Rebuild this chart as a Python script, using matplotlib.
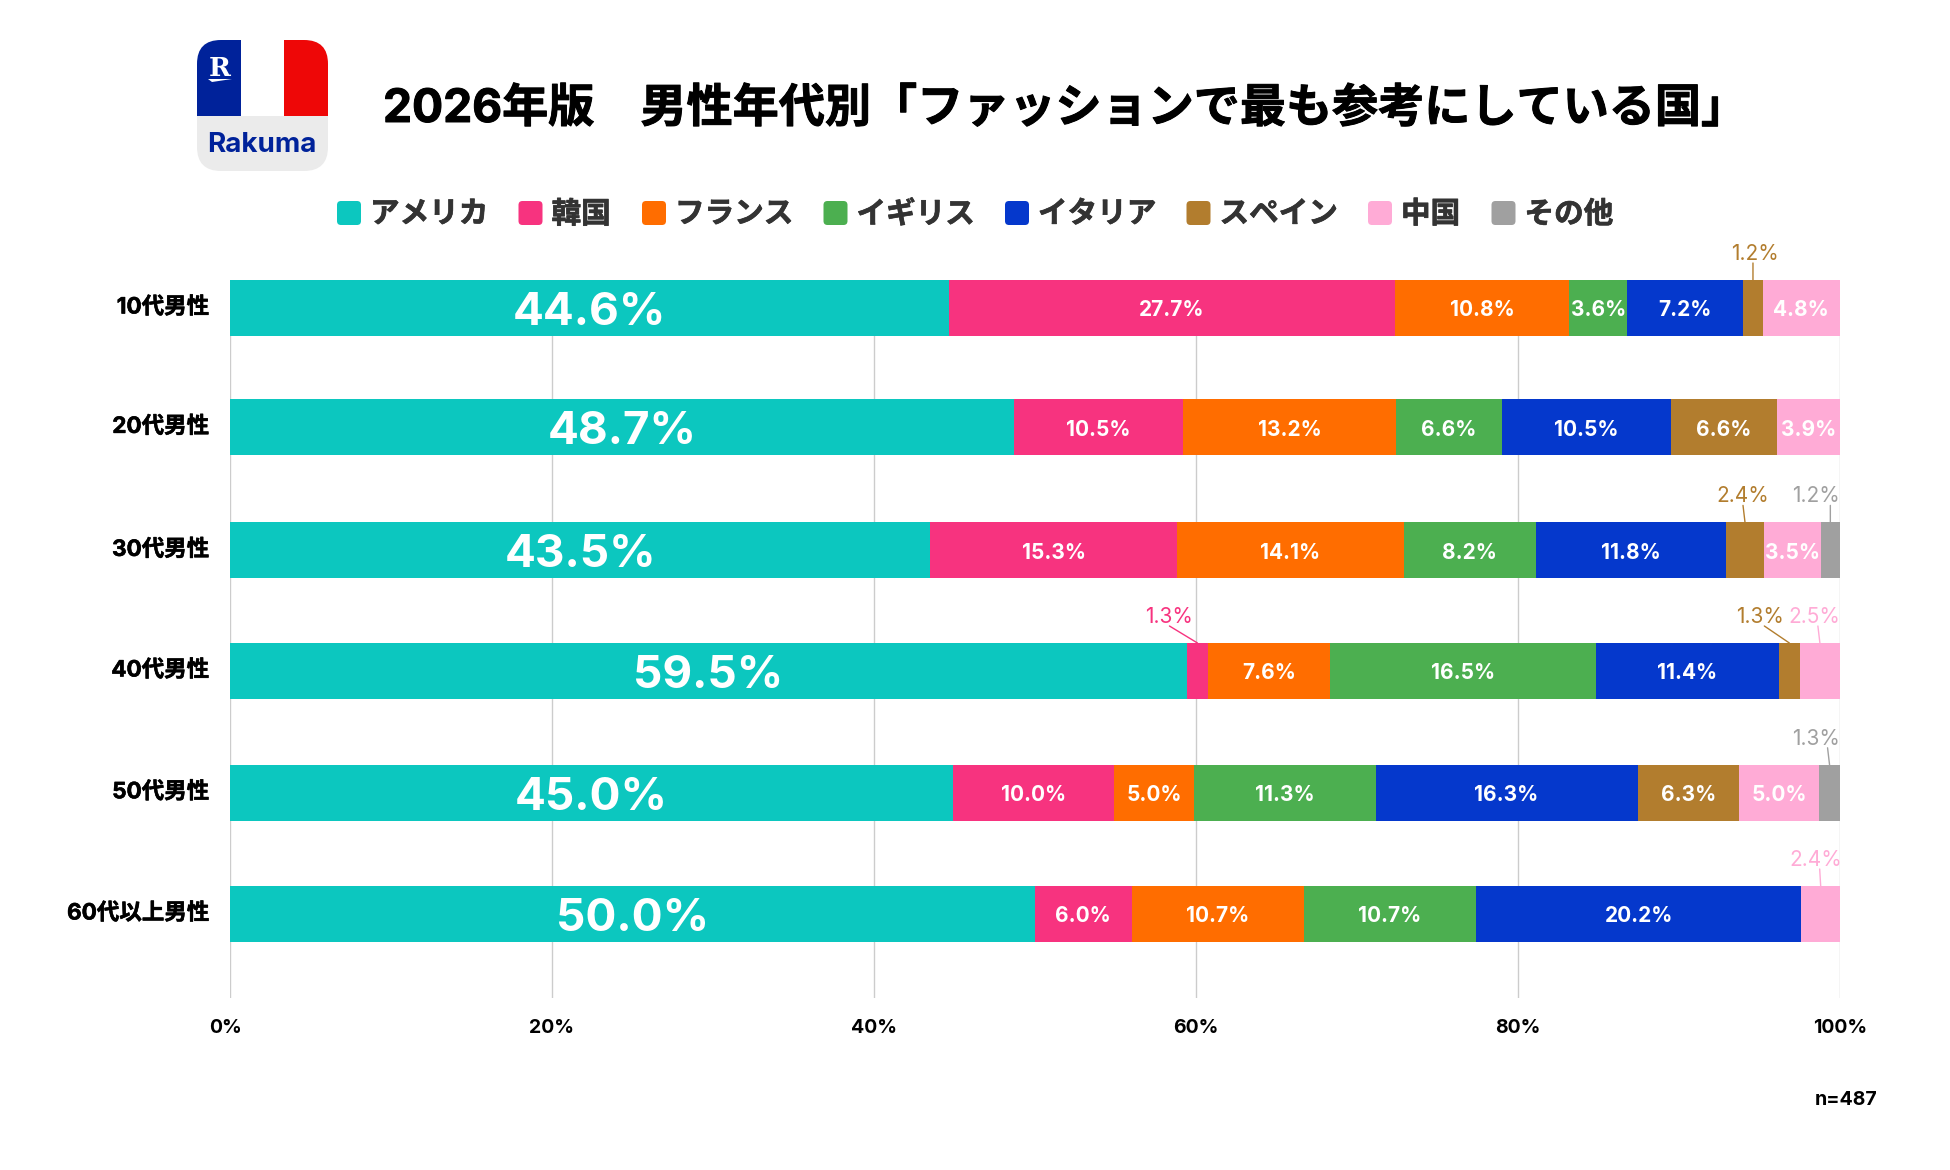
"""
Rakuma 2026 - country men refer to for fashion, by age group
"""

import matplotlib
matplotlib.use('Agg')
import matplotlib.pyplot as plt
import matplotlib.patheffects as pe
from matplotlib.patches import FancyBboxPatch, Rectangle, Polygon
from matplotlib.transforms import ScaledTranslation

plt.rcParams['font.family'] = ['Inter', 'Noto Sans CJK JP', 'DejaVu Sans']

TITLE = '2026年版　男性年代別「ファッションで最も参考にしている国」'
ages = ['10代男性', '20代男性', '30代男性', '40代男性', '50代男性', '60代以上男性']
countries = ['アメリカ', '韓国', 'フランス', 'イギリス', 'イタリア', 'スペイン', '中国', 'その他']
colors = ['#0CC7BF', '#F7337F', '#FF6D00', '#4CAF50', '#0538CC', '#B27D2E', '#FFABD6', '#A0A0A0']

america = [44.6, 48.7, 43.5, 59.5, 45.0, 50.0]
korea = [27.7, 10.5, 15.3, 1.3, 10.0, 6.0]
france = [10.8, 13.2, 14.1, 7.6, 5.0, 10.7]
britain = [3.6, 6.6, 8.2, 16.5, 11.3, 10.7]
italy = [7.2, 10.5, 11.8, 11.4, 16.3, 20.2]
spain = [1.2, 6.6, 2.4, 1.3, 6.3, 0]
china = [4.8, 3.9, 3.5, 2.5, 5.0, 2.4]
other = [0, 0, 1.2, 0, 1.3, 0]
series = [america, korea, france, britain, italy, spain, china, other]

# the rows in the picture are not spaced quite evenly
row_pos = [0, 0.985, 2, 2.995, 4, 5]

# small segments labelled above the bar: row, series, label dx, leader top dx (pixels)
callouts = [
    (0, 5, 2, 0),
    (2, 5, -2, -2),
    (2, 7, -14, 0),
    (3, 1, -28, -28),
    (3, 5, -29, -25),
    (3, 6, -6, -2),
    (4, 7, -14, -2),
    (5, 6, -5, -1),
]

W, H = 1950, 1170
BAR_TOP, ROW_STEP, BAR_H = 280, 121.2, 56
AX_LEFT, AX_RIGHT, AX_BOTTOM = 230, 1840, 998
heavy = [pe.withStroke(linewidth=0.7, foreground='black')]
heavy_label = [pe.withStroke(linewidth=0.4, foreground='black')]
heavy_grey = [pe.withStroke(linewidth=0.5, foreground='#333333')]

fig = plt.figure(figsize=(W / 100, H / 100), dpi=100, facecolor='white')
ax = fig.add_axes([AX_LEFT / W, 1 - AX_BOTTOM / H, (AX_RIGHT - AX_LEFT) / W, (AX_BOTTOM - BAR_TOP) / H])

height = BAR_H / ROW_STEP
centers = []
lefts = [0.0] * len(ages)
for i, vals in enumerate(series):
    row_centers = []
    for r, v in enumerate(vals):
        total = sum(s[r] for s in series)
        w = 100 * v / total
        row_centers.append(lefts[r] + w / 2)
        if v == 0:
            continue
        ax.barh(row_pos[r], w, left=lefts[r], height=height, color=colors[i], linewidth=0, zorder=3)
        outside = any(c[0] == r and c[1] == i for c in callouts)
        if not outside:
            big = i == 0
            ax.text(lefts[r] + w / 2, row_pos[r] + (0.04 if big else 0.02), f'{v:.1f}%', color='white',
                    ha='center', va='center', fontsize=33 if big else 15, fontweight='bold', zorder=4)
        lefts[r] += w
    centers.append(row_centers)

for r, i, dx, leader_dx in callouts:
    x = centers[i][r]
    bar_top = row_pos[r] - height / 2
    ax.annotate('', xy=(x, bar_top), xytext=(leader_dx, 17), xycoords='data', textcoords='offset pixels',
                arrowprops=dict(arrowstyle='-', color=colors[i], lw=1, shrinkA=0, shrinkB=0), zorder=4)
    ax.annotate(f'{series[i][r]:.1f}%', xy=(x, bar_top), xytext=(dx, 26), xycoords='data',
                textcoords='offset pixels', color=colors[i], fontsize=15, ha='center', va='center')

ax.set_xlim(0, 100)
ax.set_ylim(5 + (AX_BOTTOM - BAR_TOP - BAR_H / 2 - 5 * ROW_STEP) / ROW_STEP, -height / 2)
ax.set_xticks([0, 20, 40, 60, 80, 100])
ax.set_xticklabels(['0%', '20%', '40%', '60%', '80%', '100%'], fontsize=14, fontweight='bold', color='black')
ax.set_yticks(row_pos)
ax.set_yticklabels(ages, fontsize=16.2, fontweight='bold', color='black')
ax.tick_params(axis='x', length=0, pad=15)
ax.tick_params(axis='y', length=0, pad=15)
for label in ax.get_yticklabels():
    label.set_path_effects(heavy_label)
    label.set_transform(label.get_transform() + ScaledTranslation(0, 3 / 100, fig.dpi_scale_trans))
# the 0% label sits a little left of its gridline in the original
zero = ax.get_xticklabels()[0]
zero.set_transform(zero.get_transform() + ScaledTranslation(-4 / 100, 0, fig.dpi_scale_trans))
ax.grid(axis='x', color='#CCCCCC', linewidth=1, zorder=0)
ax.set_axisbelow(True)
for s in ax.spines.values():
    s.set_visible(False)

# everything outside the plot is laid out in pixels on a full-figure overlay
top = fig.add_axes([0, 0, 1, 1], zorder=5)
top.set_xlim(0, W)
top.set_ylim(H, 0)
top.axis('off')
top.patch.set_alpha(0)

top.text(383, 110, TITLE, fontsize=33.2, fontweight='bold', color='black', ha='left', va='center',
         path_effects=heavy)

# legend
x = 337
for name, c in zip(countries, colors):
    top.add_patch(FancyBboxPatch((x + 3, 204), 18, 18, boxstyle='round,pad=3,rounding_size=4',
                                 facecolor=c, edgecolor='none'))
    top.text(x + 33, 215, name, fontsize=21.3, fontweight='bold', color='#333333', ha='left', va='center',
             path_effects=heavy_grey)
    x += 65.5 + 29 * len(name)

# logo
clip = FancyBboxPatch((197 + 24, 40 + 24), 131 - 48, 131 - 48, boxstyle='round,pad=24,rounding_size=24',
                      facecolor='#EBEBEB', edgecolor='none')
top.add_patch(clip)
for lx, lw, c in [(197, 44, '#00229A'), (241, 43, 'white'), (284, 44, '#EE0707')]:
    top.add_patch(Rectangle((lx, 40), lw, 76, facecolor=c, edgecolor='none', clip_path=clip))
top.text(220, 69, 'R', color='white', fontsize=19, fontweight='bold', family='DejaVu Serif', ha='center', va='center')
top.add_patch(Polygon([(208, 79), (232, 79), (212, 82)], facecolor='white', edgecolor='none'))
top.text(262, 145, 'Rakuma', color='#00229A', fontsize=20, fontweight='bold', ha='center', va='center')

top.text(1815, 1100, 'n=487', fontsize=14, fontweight='bold', color='black', ha='left', va='center')

fig.savefig('out.png', dpi=100)
